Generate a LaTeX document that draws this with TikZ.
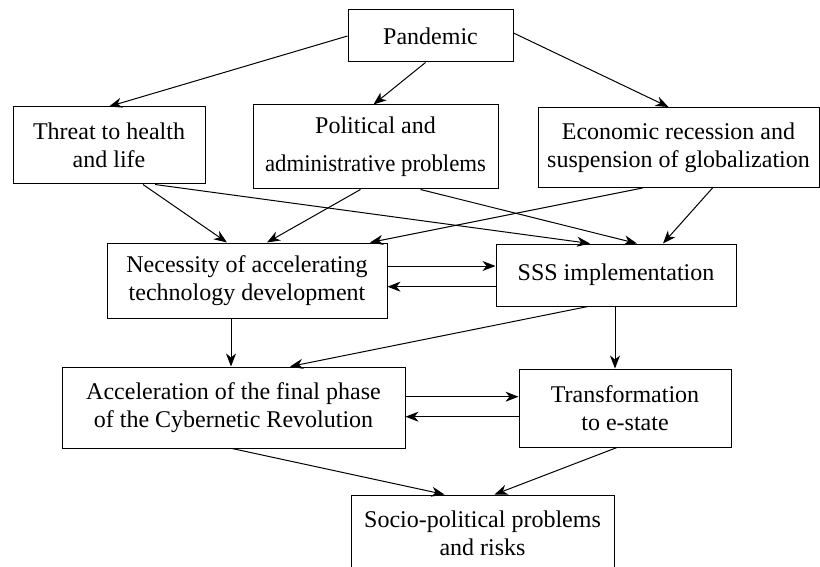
\documentclass[tikz,border=0pt]{standalone}
\usepackage{fontspec}
\setmainfont{Liberation Serif}
\newfontfamily\boxfont{Liberation Serif}
\usetikzlibrary{arrows.meta}
\tikzset{
  box/.style={draw, line width=1pt, inner sep=0pt, align=center, font=\boxfont\fontsize{24}{28}\selectfont},
  conn/.style={line width=1pt, -{Stealth[length=13pt,width=10pt,inset=4pt]}}
}
\begin{document}
\begin{tikzpicture}[x=1pt,y=-1pt]
\useasboundingbox (0,0) rectangle (820,567);
\node[box, minimum width=165pt, minimum height=52pt] (pand) at (430.5,36) {Pandemic};
\node[box, minimum width=192pt, minimum height=77pt] (threat) at (109,145.5) {Threat to health\\and life};
\node[box, minimum width=245pt, minimum height=84pt] (pol) at (375.5,147) {Political and\\[10pt]\scalebox{0.95}[1]{administrative problems}};
\node[box, minimum width=281pt, minimum height=80pt] (eco) at (678.5,147.5) {Economic recession and\\suspension of globalization};
\node[box, minimum width=280pt, minimum height=75pt] (nec) at (247,280.5) {Necessity of accelerating\\technology development};
\node[box, minimum width=240pt, minimum height=62pt] (sss) at (616,275) {SSS implementation};
\node[box, minimum width=343pt, minimum height=81pt] (acc) at (233.5,407.5) {Acceleration of the final phase\\of the Cybernetic Revolution};
\node[box, minimum width=212pt, minimum height=78pt] (tra) at (625,408) {Transformation\\to e-state};
\node[box, minimum width=263pt, minimum height=76pt] (soc) at (482.5,533) {Socio-political problems\\and risks};

\draw[conn] (pand.west) -- (threat.north);
\draw[conn] ([xshift=-5pt]pand.south) -- ([xshift=-2pt]pol.north);
\draw[conn] ([yshift=3pt]pand.east) -- ([xshift=-10pt]eco.north);

\draw[conn] ([xshift=34pt]threat.south) -- ([xshift=-20pt]nec.north);
\draw[conn] ([xshift=46pt]threat.south) -- ([xshift=-26pt]sss.north);
\draw[conn] ([xshift=-15pt]pol.south) -- ([xshift=20pt]nec.north);
\draw[conn] ([xshift=45pt]pol.south) -- ([xshift=21pt]sss.north);
\draw[conn] ([xshift=-36pt]eco.south) -- ([xshift=123pt]nec.north);
\draw[conn] ([xshift=34pt]eco.south) -- ([xshift=47pt]sss.north);

\draw[conn] ([yshift=14.5pt]nec.east) -- ([yshift=14.5pt]nec.east -| sss.west);
\draw[conn] ([yshift=-6.2pt]nec.east -| sss.west) -- ([yshift=-6.2pt]nec.east);

\draw[conn] ([xshift=-16pt]nec.south) -- ([xshift=-16pt]nec.south |- acc.north);
\draw[conn] ([xshift=-28pt]sss.south) -- ([xshift=56.5pt]acc.north);
\draw[conn] ([xshift=-1pt]sss.south) -- ([xshift=-1pt]sss.south |- tra.north);

\draw[conn] ([yshift=10.8pt]acc.east) -- ([yshift=10.8pt]acc.east -| tra.west);
\draw[conn] ([yshift=-9.2pt]acc.east -| tra.west) -- ([yshift=-9.2pt]acc.east);

\draw[conn] ([xshift=-1.5pt]acc.south) -- ([xshift=-38pt]soc.north);
\draw[conn] ([xshift=-8pt]tra.south) -- ([xshift=12pt]soc.north);
\end{tikzpicture}
\end{document}
